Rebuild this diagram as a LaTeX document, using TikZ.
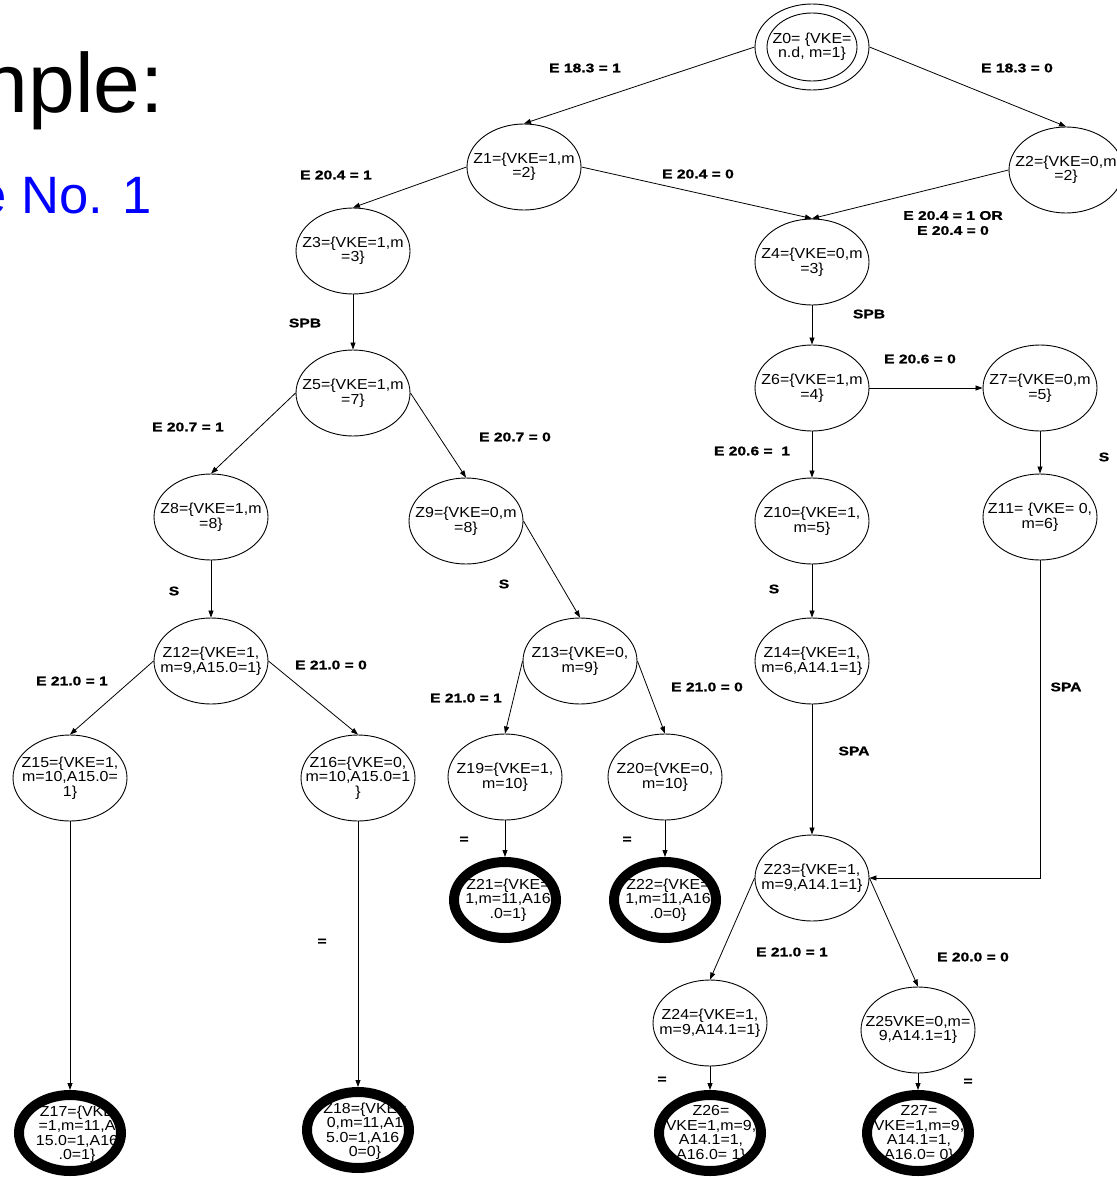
\documentclass[tikz,border=0pt]{standalone}
\usepackage{fontspec}
\setmainfont{Liberation Sans}
\newfontfamily\statefont[FakeStretch=1.1]{Liberation Sans}
\newfontfamily\edgefont[FakeStretch=1.25,BoldFeatures={FakeBold=1.2}]{Liberation Sans}
\usetikzlibrary{shapes.geometric,arrows.meta}
\definecolor{slideblue}{RGB}{0,0,255}
\begin{document}
\begin{tikzpicture}[x=1pt,y=-1pt,
  state/.style={ellipse, draw, line width=0.9pt, minimum width=114pt, minimum height=86pt, inner sep=0pt},
  final/.style={ellipse, draw, line width=10pt, minimum width=102pt, minimum height=76pt, inner sep=0pt},
  stxt/.style={align=center, inner sep=0pt, font=\statefont\fontsize{14.5}{14.5}\selectfont},
  elbl/.style={inner sep=0pt, align=center, font=\edgefont\bfseries\fontsize{12.5}{15}\selectfont},
  tr/.style={-{Triangle[length=7pt,width=5pt]}, line width=0.8pt}
]
% page
\fill[white] (0,0) rectangle (1116,1177);
\useasboundingbox (0,0) rectangle (1116,1177);

% slide heading
\node[anchor=base east, inner sep=0pt, font=\fontsize{84}{84}\selectfont] (title) at (164,113) {nple:};
\node[anchor=base east, inner sep=0pt, text=slideblue, font=\fontsize{52.6}{54}\selectfont] (subtitle) at (152,213) {e No. 1};

% states
\node[state] (Z0) at (812,47) {};
\draw[line width=0.9pt] (Z0.center) ellipse [x radius=45pt, y radius=34pt];
\node[stxt] (Z0t) at (Z0) {Z0= \{VKE=\\n.d, m=1\}};
\node[state] (Z1) at (524,167) {};
\node[stxt] (Z1t) at (Z1) {Z1=\{VKE=1,m\\=2\}};
\node[state] (Z2) at (1066,170) {};
\node[stxt] (Z2t) at (Z2) {Z2=\{VKE=0,m\\=2\}};
\node[state] (Z3) at (353,251) {};
\node[stxt] (Z3t) at (Z3) {Z3=\{VKE=1,m\\=3\}};
\node[state] (Z4) at (812,262) {};
\node[stxt] (Z4t) at (Z4) {Z4=\{VKE=0,m\\=3\}};
\node[state] (Z5) at (353,393) {};
\node[stxt] (Z5t) at (Z5) {Z5=\{VKE=1,m\\=7\}};
\node[state] (Z6) at (812,388) {};
\node[stxt] (Z6t) at (Z6) {Z6=\{VKE=1,m\\=4\}};
\node[state] (Z7) at (1040,388) {};
\node[stxt] (Z7t) at (Z7) {Z7=\{VKE=0,m\\=5\}};
\node[state] (Z8) at (211,517) {};
\node[stxt] (Z8t) at (Z8) {Z8=\{VKE=1,m\\=8\}};
\node[state] (Z9) at (466,521) {};
\node[stxt] (Z9t) at (Z9) {Z9=\{VKE=0,m\\=8\}};
\node[state] (Z10) at (812,521) {};
\node[stxt] (Z10t) at (Z10) {Z10=\{VKE=1,\\m=5\}};
\node[state] (Z11) at (1040,517) {};
\node[stxt] (Z11t) at (Z11) {Z11= \{VKE= 0,\\m=6\}};
\node[state] (Z12) at (211,661) {};
\node[stxt] (Z12t) at (Z12) {Z12=\{VKE=1,\\m=9,A15.0=1\}};
\node[state] (Z13) at (580,661) {};
\node[stxt] (Z13t) at (Z13) {Z13=\{VKE=0,\\m=9\}};
\node[state] (Z14) at (812,661) {};
\node[stxt] (Z14t) at (Z14) {Z14=\{VKE=1,\\m=6,A14.1=1\}};
\node[state] (Z15) at (70,778) {};
\node[stxt] (Z15t) at (Z15) {Z15=\{VKE=1,\\m=10,A15.0=\\1\}};
\node[state] (Z16) at (358,778) {};
\node[stxt] (Z16t) at (Z16) {Z16=\{VKE=0,\\m=10,A15.0=1\\\}};
\node[state] (Z19) at (505,777) {};
\node[stxt] (Z19t) at (Z19) {Z19=\{VKE=1,\\m=10\}};
\node[state] (Z20) at (665,777) {};
\node[stxt] (Z20t) at (Z20) {Z20=\{VKE=0,\\m=10\}};
\node[state] (Z23) at (812,878) {};
\node[stxt] (Z23t) at (Z23) {Z23=\{VKE=1,\\m=9,A14.1=1\}};
\node[state] (Z24) at (710,1023) {};
\node[stxt] (Z24t) at (Z24) {Z24=\{VKE=1,\\m=9,A14.1=1\}};
\node[state] (Z25) at (918,1030) {};
\node[stxt] (Z25t) at (Z25) {Z25VKE=0,m=\\9,A14.1=1\}};

% final states: text first, heavy ring on top
\node[stxt] (Z21t) at (508,900) {Z21=\{VKE=\\1,m=11,A16\\.0=1\}};
\node[final] (Z21) at (505,900) {};
\node[stxt] (Z22t) at (668,900) {Z22=\{VKE=\\1,m=11,A16\\.0=0\}};
\node[final] (Z22) at (665,900) {};
\node[stxt] (Z17t) at (77,1134) {Z17=\{VKE\\=1,m=11,A\\15.0=1,A16\\.0=1\}};
\node[final] (Z17) at (70,1133) {};
\node[stxt] (Z18t) at (365,1131) {Z18=\{VKE=\\0,m=11,A1\\5.0=1,A16.\\0=0\}};
\node[final] (Z18) at (358,1130) {};
\node[stxt] (Z26t) at (711,1134) {Z26=\\VKE=1,m=9,\\A14.1=1,\\A16.0= 1\}};
\node[final] (Z26) at (710,1133) {};
\node[stxt] (Z27t) at (919,1134) {Z27=\\VKE=1,m=9,\\A14.1=1,\\A16.0= 0\}};
\node[final] (Z27) at (918,1133) {};

% transitions
\draw[tr] (Z0.west) -- (Z1.north);
\draw[tr] (Z0.east) -- (Z2.north);
\draw[tr] (Z1.west) -- (Z3.north);
\draw[tr] (Z1.east) -- (Z4.north);
\draw[tr] (Z2.west) -- (Z4.north);
\draw[tr] (Z3.south) -- (Z5.north);
\draw[tr] (Z4.south) -- (Z6.north);
\draw[tr] (Z5.west) -- (Z8.north);
\draw[tr] (Z5.east) -- (Z9.north);
\draw[tr] (Z6.east) -- (Z7.west);
\draw[tr] (Z6.south) -- (Z10.north);
\draw[tr] (Z7.south) -- (Z11.north);
\draw[tr] (Z8.south) -- (Z12.north);
\draw[tr] (Z9.east) -- (Z13.north);
\draw[tr] (Z10.south) -- (Z14.north);
\draw[tr] (Z11.south) |- (Z23.east);
\draw[tr] (Z12.west) -- (Z15.north);
\draw[tr] (Z12.east) -- (Z16.north);
\draw[tr] (Z13.west) -- (Z19.north);
\draw[tr] (Z13.east) -- (Z20.north);
\draw[tr] (Z14.south) -- (Z23.north);
\draw[tr] (Z15.south) -- (Z17.north);
\draw[tr] (Z16.south) -- (Z18.north);
\draw[tr] (Z19.south) -- (Z21.north);
\draw[tr] (Z20.south) -- (Z22.north);
\draw[tr] (Z23.west) -- (Z24.north);
\draw[tr] (Z23.east) -- (Z25.north);
\draw[tr] (Z24.south) -- (Z26.north);
\draw[tr] (Z25.south) -- (Z27.north);

% transition conditions
\node[elbl] (l01) at (585,68) {E 18.3 = 1};
\node[elbl] (l02) at (1017,68) {E 18.3 = 0};
\node[elbl] (l13) at (336,175) {E 20.4 = 1};
\node[elbl] (l14) at (698,174) {E 20.4 = 0};
\node[elbl] (l24) at (953,223) {E 20.4 = 1 OR\\E 20.4 = 0};
\node[elbl] (l35) at (305,323) {SPB};
\node[elbl] (l46) at (869,314) {SPB};
\node[elbl] (l67) at (920,359) {E 20.6 = 0};
\node[elbl] (l58) at (188,427) {E 20.7 = 1};
\node[elbl] (l59) at (515,437) {E 20.7 = 0};
\node[elbl] (l610) at (752,451) {E 20.6 =\ \ 1};
\node[elbl] (l711) at (1104,457) {S};
\node[elbl] (l812) at (174,591) {S};
\node[elbl] (l913) at (504,584) {S};
\node[elbl] (l1014) at (774,589) {S};
\node[elbl] (l1215) at (72,681) {E 21.0 = 1};
\node[elbl] (l1216) at (331,665) {E 21.0 = 0};
\node[elbl] (l1319) at (466,698) {E 21.0 = 1};
\node[elbl] (l1320) at (707,687) {E 21.0 = 0};
\node[elbl] (l1123) at (1066,687) {SPA};
\node[elbl] (l1423) at (854,751) {SPA};
\node[elbl] (l1921) at (464,840) {=};
\node[elbl] (l2022) at (627,840) {=};
\node[elbl] (l1618) at (322,942) {=};
\node[elbl] (l2324) at (792,952) {E 21.0 = 1};
\node[elbl] (l2325) at (973,957) {E 20.0 = 0};
\node[elbl] (l2426) at (662,1080) {=};
\node[elbl] (l2527) at (968,1082) {=};
\end{tikzpicture}
\end{document}
